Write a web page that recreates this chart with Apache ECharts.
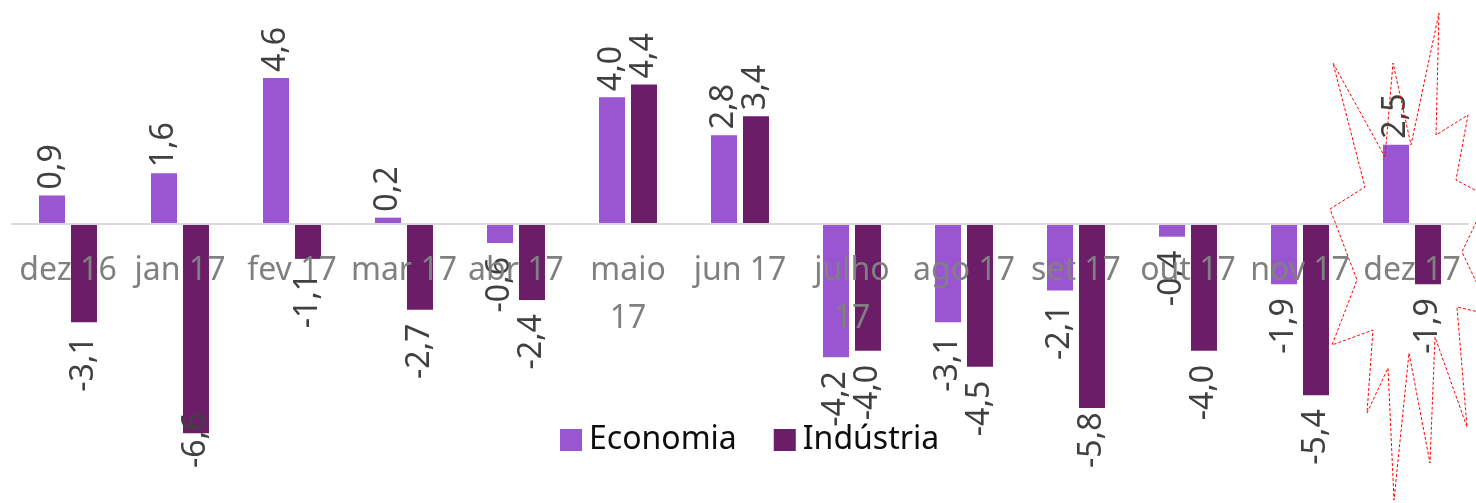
<!DOCTYPE html>
<html>
<head>
<meta charset="utf-8">
<script src="https://cdn.jsdelivr.net/npm/echarts@6/dist/echarts.min.js"></script>
<style>
  html, body { margin: 0; padding: 0; background: #fff; }
  #chart { width: 1476px; height: 503px; }
</style>
</head>
<body>
<div id="chart"></div>
<script>
// months shown on the x axis
const categories = ['dez 16', 'jan 17', 'fev 17', 'mar 17', 'abr 17', 'maio 17', 'jun 17',
                    'julho 17', 'ago 17', 'set 17', 'out 17', 'nov 17', 'dez 17'];
const economia = [0.9, 1.6, 4.6, 0.2, -0.6, 4.0, 2.8, -4.2, -3.1, -2.1, -0.4, -1.9, 2.5];
const industria = [-3.1, -6.6, -1.1, -2.7, -2.4, 4.4, 3.4, -4.0, -4.5, -5.8, -4.0, -5.4, -1.9];

// dashed "starburst" callout drawn around dez 17
const burst = [
  [1333, 63], [1385, 157], [1393, 63], [1411, 145], [1439, 13], [1436, 135],
  [1468, 115], [1456, 180], [1488, 197], [1462, 252], [1492, 315], [1457, 307],
  [1467, 427], [1435, 337], [1430, 463], [1409, 353], [1394, 500], [1388, 368],
  [1367, 413], [1373, 330], [1332, 345], [1357, 280], [1330, 209], [1365, 187]
];

const FONT = 'Noto Sans';
const LABEL_FLOOR = 468; // labels are kept above this line, like the spreadsheet does

function fmt(v) {
  return v.toFixed(1).replace('.', ',');
}

// per bar label: above positive bars, below negative ones
function withLabels(values) {
  return values.map(function (v) {
    const neg = v < 0;
    return {
      value: v,
      label: {
        position: neg ? 'bottom' : 'top',
        align: neg ? 'right' : 'left',
        distance: neg ? 14 : 6
      }
    };
  });
}

const chart = echarts.init(document.getElementById('chart'));

const labelStyle = {
  show: true,
  rotate: 90,
  verticalAlign: 'middle',
  color: '#404040',
  fontFamily: FONT,
  fontSize: 32,
  formatter: function (p) { return fmt(p.value); }
};

// text is rotated, so its local x runs upward on screen
function clampLabel(params) {
  const r = params.labelRect;
  const over = r.y + r.height - LABEL_FLOOR;
  return over > 0 ? { dx: over } : {};
}

chart.setOption({
  animation: false,
  backgroundColor: '#fff',
  grid: { left: 12, right: 8, top: 2, bottom: 57, containLabel: false, outerBoundsMode: 'none' },
  legend: {
    left: 555,
    top: 419,
    icon: 'rect',
    itemWidth: 22,
    itemHeight: 22,
    itemGap: 37,
    textStyle: { color: '#0d0d0d', fontFamily: FONT, fontSize: 32, padding: [0, 0, 0, 2] },
    data: ['Economia', 'Indústria']
  },
  xAxis: {
    type: 'category',
    data: categories,
    z: 5,
    axisLine: { onZero: true, lineStyle: { color: '#d9d9d9', width: 2 } },
    axisTick: { show: false },
    axisLabel: {
      color: '#808080',
      fontFamily: FONT,
      fontSize: 32,
      lineHeight: 48,
      // labels sit just under the zero line, not at the grid bottom
      margin: -199,
      interval: 0,
      formatter: function (v) { return v.length > 6 ? v.replace(' ', '\n') : v; }
    }
  },
  yAxis: {
    type: 'value',
    min: -7,
    max: 7,
    show: false,
    splitLine: { show: false }
  },
  series: [
    {
      name: 'Economia',
      type: 'bar',
      data: withLabels(economia),
      barWidth: 26,
      barGap: '23%',
      itemStyle: { color: '#9a55d0' },
      label: labelStyle,
      labelLayout: clampLabel
    },
    {
      name: 'Indústria',
      type: 'bar',
      data: withLabels(industria),
      barWidth: 26,
      barGap: '23%',
      itemStyle: { color: '#6c1d68' },
      label: labelStyle,
      labelLayout: clampLabel
    }
  ],
  graphic: [
    {
      type: 'polygon',
      z: 100,
      shape: { points: burst },
      style: { fill: 'none', stroke: '#ff0000', lineWidth: 1, lineDash: [3, 2] }
    }
  ]
});
</script>
</body>
</html>
